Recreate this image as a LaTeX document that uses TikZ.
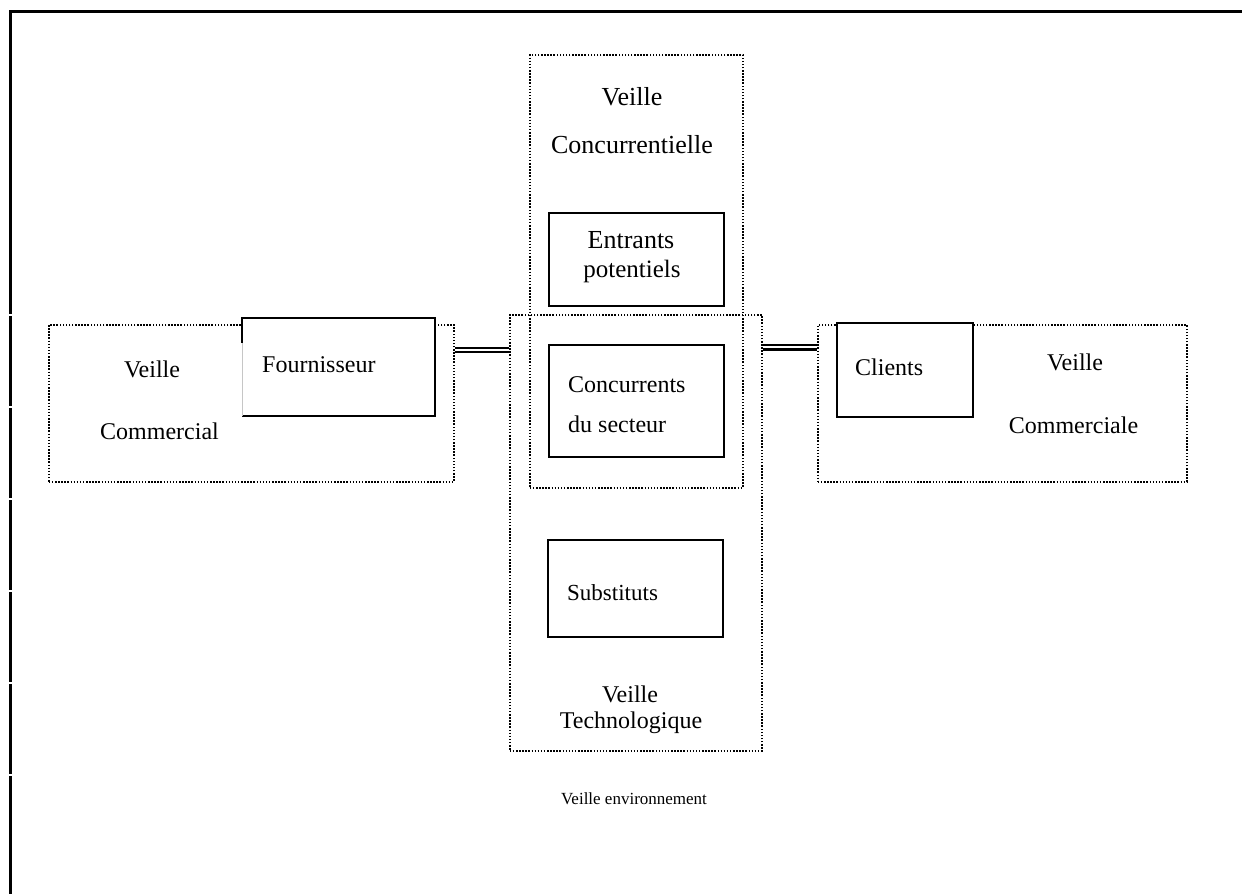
\documentclass[tikz,border=0pt]{standalone}
\usepackage{fontspec}
\setmainfont{Liberation Serif}
\begin{document}
\begin{tikzpicture}[x=1pt,y=-1pt,
  dotbox/.style={draw=black, line width=1.6pt, dash pattern=on 1.5pt off 1.6pt, inner sep=0pt, anchor=north west},
  solidbox/.style={draw=black, line width=2pt, fill=white, inner sep=0pt, anchor=north west},
  txt/.style={font=\fontsize{24}{28}\selectfont, inner sep=0pt, anchor=base},
  big/.style={font=\fontsize{26}{30}\selectfont},
  link/.style={line width=2.2pt},
  frame/.style={line width=3.6pt}]
\useasboundingbox (0,0) rectangle (1242,894);

% outer frame: top and left rules only
\coordinate (ftop) at (1242,11.5);
\coordinate (fcorner) at (10.5,11.5);
\coordinate (fbot) at (10.5,894);
\draw[frame] (ftop) -- (fcorner) -- (fbot);
\foreach \g in {315,407,499,591,683,775}
  \fill[white] (8,\g-0.6) rectangle (13,\g+0.6);

% dotted watch areas
\node[dotbox, minimum width=405pt, minimum height=157pt] (commL) at (48,324) {};
\node[dotbox, minimum width=213pt, minimum height=433pt] (concur) at (529,54) {};
\node[dotbox, minimum width=252pt, minimum height=436pt] (techno) at (509,314) {};
\node[dotbox, minimum width=369pt, minimum height=157pt] (commR) at (817,324) {};

% supplier box, white over the dotted frame, left side mostly faint
\node[fill=white, inner sep=0pt, anchor=north west, minimum width=193pt, minimum height=98pt] (fourn) at (242,318) {};
\draw[line width=2pt] ([yshift=-25pt]fourn.north west) -- (fourn.north west) -- (fourn.north east) -- (fourn.south east) -- (fourn.south west);
\draw[gray!45, line width=0.8pt] (fourn.south west) -- ([yshift=-25pt]fourn.north west);

% solid boxes
\node[solidbox, minimum width=175pt, minimum height=93pt] (entrants) at (548,212) {};
\node[solidbox, minimum width=175pt, minimum height=112pt] (concurrents) at (548,344) {};
\node[solidbox, minimum width=175pt, minimum height=97pt] (substituts) at (547,539) {};
\node[solidbox, minimum width=136pt, minimum height=94pt] (clients) at (835.5,322) {};

% double links
\draw[link] (commL.east |- 0,348) -- (techno.west |- 0,348);
\draw[link] (commL.east |- 0,352) -- (techno.west |- 0,352);
\draw[link, line width=2.8pt] (techno.east |- 0,345) -- (commR.west |- 0,345);
\draw[link, line width=2.8pt] (techno.east |- 0,349.8) -- (commR.west |- 0,349.8);

% labels
\node[txt] (tVeilleL) at (152,377) {Veille};
\node[txt, anchor=base west] (tCommL) at (100,439) {Commercial};
\node[txt, anchor=base west] (tFourn) at (262,372) {Fournisseur};
\node[txt, big] (tVeilleC) at (632,105) {Veille};
\node[txt, big] (tConcur) at (632,153) {Concurrentielle};
\node[txt, big] (tEntr) at (631,248) {Entrants};
\node[txt, font=\fontsize{25}{29}\selectfont] (tPot) at (632,277) {potentiels};
\node[txt, anchor=base west] (tConc) at (568,392) {Concurrents};
\node[txt, anchor=base west] (tSect) at (568,432) {du secteur};
\node[txt, anchor=base west, font=\fontsize{23}{27}\selectfont] (tSubst) at (567,600) {Substituts};
\node[txt] (tVeilleT) at (630,702) {Veille};
\node[txt] (tTechno) at (631,728) {Technologique};
\node[txt, font=\fontsize{17}{20}\selectfont] (tEnv) at (634,804) {Veille environnement};
\node[txt, anchor=base west] (tClients) at (855,375) {Clients};
\node[txt] (tVeilleR) at (1075,370) {Veille};
\node[txt] (tCommR) at (1073.5,433) {Commerciale};
\end{tikzpicture}
\end{document}
